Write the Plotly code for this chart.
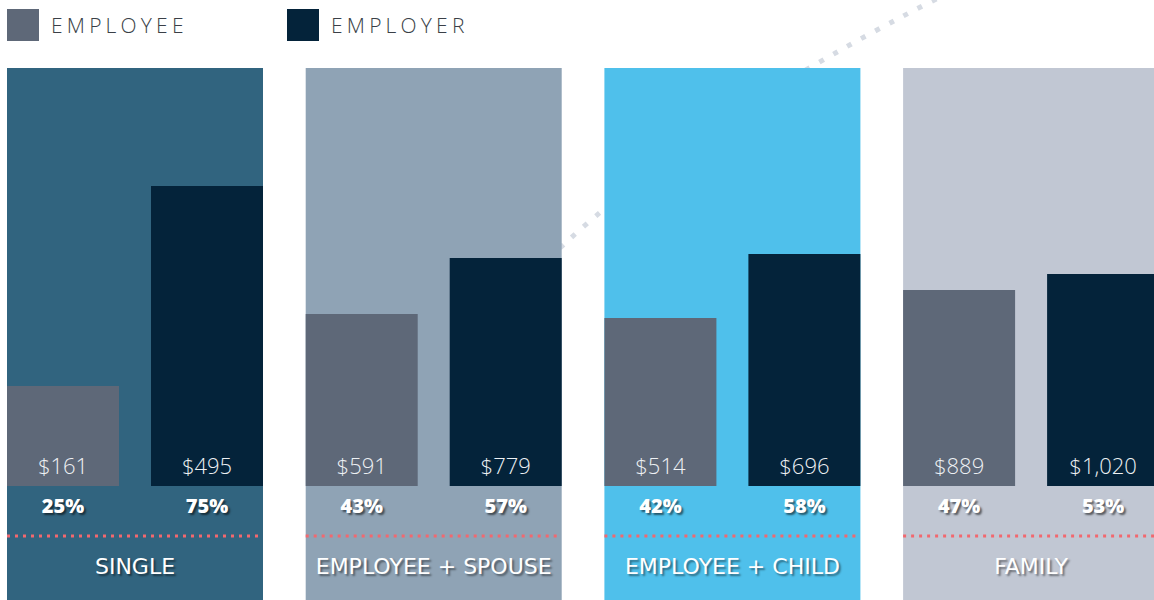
import plotly.graph_objects as go


categories = ["SINGLE", "EMPLOYEE + SPOUSE", "EMPLOYEE + CHILD", "FAMILY"]
series_names = ["EMPLOYEE", "EMPLOYER"]

employee_cost = [161, 591, 514, 889]
employer_cost = [495, 779, 696, 1020]

employee_pct = [25, 43, 42, 47]
employer_pct = [75, 57, 58, 53]

# bar heights as drawn (share of premium, %)
employee_bar = [25, 43, 42, 49]
employer_bar = [75, 57, 58, 53]

panel_colors = ["#31647f", "#8fa3b5", "#4fc0eb", "#c1c7d3"]
employee_color = "#5e6878"
employer_color = "#04233a"
font_family = "'Open Sans', 'Noto Sans', sans-serif"
label_family = "'DejaVu Sans', sans-serif"


W, H = 1154, 600
BASE_ROW = 486      # pixel row of the bar baseline
PX_PER_UNIT = 4     # pixels per percentage point


def py(row):
    # pixel row -> y-axis value
    return (BASE_ROW - row) / PX_PER_UNIT


panel_left = [7 + 298.7 * i for i in range(len(categories))]
panel_w = 256
bar_w = 112
emp_x = [p + bar_w / 2 for p in panel_left]
er_x = [p + panel_w - bar_w / 2 for p in panel_left]
mid_x = [p + panel_w / 2 for p in panel_left]


fig = go.Figure()

fig.add_trace(
    go.Bar(
        x=emp_x,
        y=employee_bar,
        width=[bar_w] * len(emp_x),
        marker=dict(color=employee_color, line=dict(width=0)),
        name=series_names[0],
        hoverinfo="skip",
        showlegend=False
    )
)

fig.add_trace(
    go.Bar(
        x=er_x,
        y=employer_bar,
        width=[bar_w] * len(er_x),
        marker=dict(color=employer_color, line=dict(width=0)),
        name=series_names[1],
        hoverinfo="skip",
        showlegend=False
    )
)

# dollar amounts inside the bars
fig.add_trace(
    go.Scatter(
        x=emp_x + er_x,
        y=[py(468)] * (len(emp_x) + len(er_x)),
        mode="text",
        text=[f"${v:,}" for v in employee_cost + employer_cost],
        textfont=dict(family=font_family, size=22, color="#eef1f4", weight=300),
        hoverinfo="skip",
        showlegend=False
    )
)

# percentage shares
fig.add_trace(
    go.Scatter(
        x=emp_x + er_x,
        y=[py(508)] * (len(emp_x) + len(er_x)),
        mode="text",
        text=[f"{v}%" for v in employee_pct + employer_pct],
        textfont=dict(
            family=font_family, size=20, color="white", weight=800,
            shadow="2px 2px 2px rgba(0,0,0,0.55)"
        ),
        hoverinfo="skip",
        showlegend=False
    )
)

# category names
fig.add_trace(
    go.Scatter(
        x=mid_x,
        y=[py(568)] * len(mid_x),
        mode="text",
        text=categories,
        textfont=dict(
            family=label_family, size=22, color="white",
            shadow="2px 2px 2px rgba(0,0,0,0.45)"
        ),
        hoverinfo="skip",
        showlegend=False
    )
)


shapes = []

# decorative dotted curve behind the panels
shapes.append(
    dict(
        type="path",
        xref="x", yref="y",
        path=f"M 560,{py(248)} Q 697.5,{py(118.75)} 950,{py(-8)}",
        line=dict(color="#d6dbe3", width=5, dash="5px,11px"),
        layer="below"
    )
)

for left, color in zip(panel_left, panel_colors):
    shapes.append(
        dict(
            type="rect", xref="x", yref="y",
            x0=left, x1=left + panel_w, y0=py(620), y1=py(68),
            fillcolor=color, line=dict(width=0), layer="below"
        )
    )
    shapes.append(
        dict(
            type="line", xref="x", yref="y",
            x0=left, x1=left + panel_w, y0=py(536), y1=py(536),
            line=dict(color="#f2686f", width=3, dash="3px,5px"),
            layer="below"
        )
    )

# legend swatches
legend_left = [7, 287]
for left, color in zip(legend_left, [employee_color, employer_color]):
    shapes.append(
        dict(
            type="rect", xref="x", yref="y",
            x0=left, x1=left + 32, y0=py(41), y1=py(9),
            fillcolor=color, line=dict(width=0)
        )
    )

annotations = [
    dict(
        x=left + 42, y=py(25), xref="x", yref="y",
        text=name, showarrow=False, xanchor="left", yanchor="middle",
        font=dict(family=font_family, size=21, color="#3a3f47", weight=300)
    )
    for left, name in zip(legend_left, series_names)
]


fig.update_layout(
    width=W,
    height=H,
    margin=dict(l=0, r=0, t=0, b=0),
    paper_bgcolor="white",
    plot_bgcolor="white",
    barmode="overlay",
    showlegend=False,
    shapes=shapes,
    annotations=annotations,
    xaxis=dict(range=[0, W], visible=False, fixedrange=True),
    yaxis=dict(range=[py(H), py(0)], visible=False, fixedrange=True)
)


# widen the legend lettering, keeping its left edge in place
spacing_js = """
document.body.style.margin='0';
document.querySelectorAll('.annotation-text').forEach(function(t){
  var x0 = t.getBBox().x;
  t.style.letterSpacing = '4.2px';
  var x1 = t.getBBox().x;
  t.setAttribute('transform', 'translate(' + (x0 - x1) + ',0)');
});
"""

fig.write_html(
    "out.html",
    config={"displayModeBar": False},
    post_script=spacing_js
)
